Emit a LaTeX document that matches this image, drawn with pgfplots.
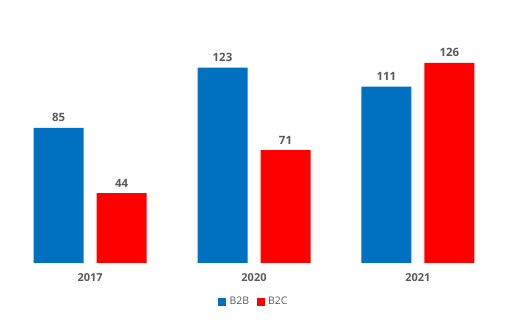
\documentclass[border=0pt]{standalone}
\usepackage{pgfplots}
\pgfplotsset{compat=1.18}
\usepackage{fontspec}
\setmainfont{Open Sans}
\definecolor{cblue}{HTML}{0070C0}
\definecolor{cred}{HTML}{FF0000}
\definecolor{cgray}{HTML}{595959}
\definecolor{lgray}{HTML}{D9D9D9}
\begin{document}
\begin{tikzpicture}
\begin{axis}[
  at={(0bp,69bp)}, anchor=south west,
  scale only axis, width=508bp, height=233bp,
  xmin=-0.55, xmax=2.55, ymin=0, ymax=146.7,
  ybar, bar width=50bp, bar shift auto,
  axis line style={draw=none},
  axis x line*=bottom, axis y line=none,
  xtick=data, xticklabels={2017,2020,2021},
  xtick style={draw=none},
  xticklabel style={font=\fontsize{11}{13}\selectfont\bfseries, text=cgray, yshift=-3bp},
  ytick=\empty,
  nodes near coords,
  nodes near coords style={font=\fontsize{11.5}{13}\selectfont\bfseries, text=cgray, yshift=2.5bp},
  legend style={at={(0.5,-0.167)}, anchor=center, draw=none, legend columns=2,
    font=\fontsize{10.5}{12}\selectfont, text=cgray,
    /tikz/every odd column/.append style={column sep=1.5bp},
    /tikz/every even column/.append style={column sep=6bp}},
  legend image code/.code={\fill[#1] (0bp,-3.8bp) rectangle (7.6bp,3.8bp);},
  /pgf/number format/assume math mode=true,
]
\draw[lgray, line width=0.8bp] (axis cs:-0.55,0) -- (axis cs:2.55,0);
\addplot[fill=cblue, draw=none, bar shift=-31.5bp] coordinates {(0,85) (1,123) (2,111)};
\addplot[fill=cred, draw=none, bar shift=31.5bp] coordinates {(0,44) (1,71) (2,126)};
\legend{B2B,B2C}
\end{axis}
\path[use as bounding box] (0,0) rectangle (512bp,332bp);
\end{tikzpicture}
\end{document}
